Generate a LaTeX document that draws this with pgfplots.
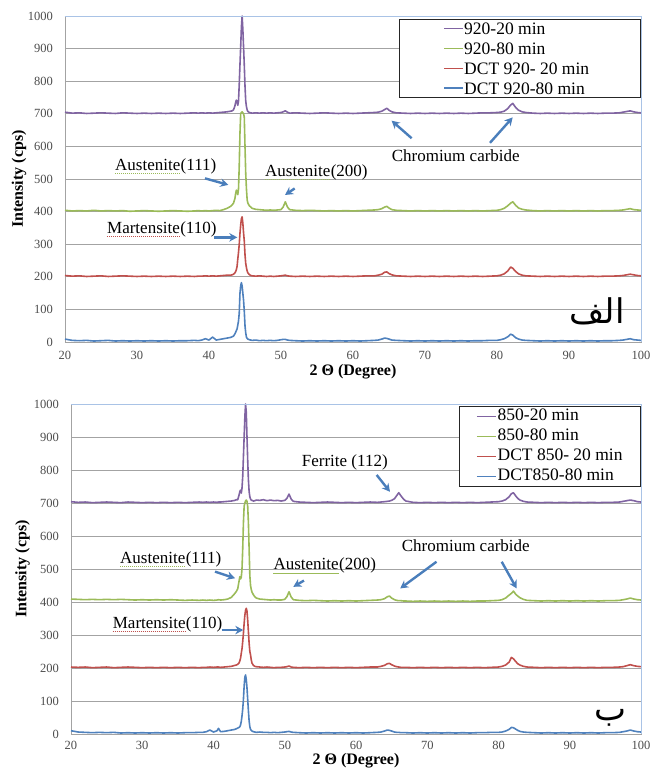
\documentclass[border=0pt]{standalone}
\usepackage{fontspec}
\setmainfont{Liberation Serif}
\newfontfamily\arabicfont[Script=Arabic]{DejaVu Sans}
\TeXXeTstate=1
\usepackage{pgfplots}
\usepackage{pgfplotstable}
\pgfplotsset{compat=1.18}
\usetikzlibrary{arrows.meta}

\definecolor{cP}{HTML}{8064A2}
\definecolor{cG}{HTML}{9BBB59}
\definecolor{cR}{HTML}{C0504D}
\definecolor{cB}{HTML}{4F81BD}
\definecolor{arr}{HTML}{4A7EBB}
\definecolor{gridc}{HTML}{A3A3A3}
\definecolor{framec}{HTML}{A9C3E6}

% x  920-20  920-80  DCT920-20  DCT920-80
\pgfplotstableread{
x p g r b
20 705 404 204 9
21 702 402 202 5
22 703 403 203 4
23 701 402 201 5
24 702 404 202 3
25 703 402 203 4
26 702 403 201 5
27 701 402 202 3
28 703 403 203 4
29 702 401 202 3
30 701 402 201 4
31 702 403 202 3
32 701 402 201 4
33 702 401 202 3
34 701 402 201 4
35 702 403 202 3
36 701 402 201 4
37 702 401 202 4
38 703 402 201 5
38.5 702 403 202 4
39 703 402 202 6
39.5 702 403 203 10
40 703 402 202 6
40.5 702 403 203 15
41 703 404 202 6
41.5 704 403 203 8
42 705 406 204 10
42.5 706 410 205 12
43.0 708 416 205 14
43.2 709 420 206 16
43.4 712 426 208 18
43.6 724 440 212 25
43.7 735 455 216 30
43.8 742 466 222 35
43.9 738 462 232 40
44.0 726 452 255 52
44.1 740 470 275 65
44.2 790 540 300 88
44.3 850 640 333 149
44.4 905 700 358 172
44.5 965 704 378 182
44.6 1000 706 384 172
44.7 960 703 365 150
44.8 905 700 335 128
44.9 850 690 310 95
45.0 785 600 268 50
45.1 740 518 241 28
45.2 722 470 228 15
45.3 712 436 218 11
45.4 707 426 212 9
45.6 704 418 207 7
45.8 703 414 204 6
46.0 702 410 203 5
46.5 703 407 202 6
47 702 406 203 4
47.5 703 405 202 5
48 702 404 201 4
48.5 703 405 202 5
49 702 404 201 4
49.5 703 405 202 5
50.0 704 406 203 7
50.3 706 414 204 8
50.6 709 430 205 8
50.9 705 414 203 6
51.2 702 406 202 5
52 703 404 201 4
53 702 403 202 3
54 701 404 201 4
55 702 403 202 3
56 703 402 201 4
57 702 403 202 3
58 701 402 201 4
59 702 403 202 3
60 701 402 201 4
61 702 403 202 3
62 703 404 203 4
63 704 405 203 5
63.5 705 406 205 6
64.0 708 409 208 9
64.4 713 414 214 12
64.7 717 416 215 11
65.0 711 411 210 9
65.4 706 406 206 6
66 703 404 203 5
67 702 403 202 4
68 701 402 201 3
69 702 403 202 4
70 701 402 201 3
71 702 403 202 4
72 701 402 201 3
73 702 403 202 4
74 701 402 201 3
75 702 403 202 4
76 701 402 201 3
77 702 403 202 4
78 703 402 201 4
79 703 403 202 5
80 704 404 203 5
80.5 705 406 205 7
81 708 410 209 10
81.5 716 418 218 16
81.9 727 426 230 24
82.2 732 430 226 21
82.6 719 419 216 13
83 711 411 209 9
83.5 706 407 205 6
84 704 405 203 5
85 702 403 202 4
86 701 402 201 3
87 702 403 202 4
88 701 402 201 3
89 702 403 202 4
90 701 402 201 3
91 702 403 202 4
92 701 402 201 3
93 702 403 202 4
94 701 402 201 3
95 702 403 202 4
96 702 403 202 4
97 703 404 203 5
97.5 705 405 204 6
98.0 707 407 206 8
98.5 709 409 208 10
99.0 706 406 206 7
99.5 704 405 204 6
100 703 404 203 5
}\topdata

% x  850-20  850-80  DCT850-20  DCT850-80
\pgfplotstableread{
x p g r b
20 704 409 203 10
21 702 408 202 6
22 703 407 203 5
23 701 408 201 4
24 702 407 202 5
25 703 408 203 4
26 702 407 201 5
27 701 408 202 3
28 703 407 203 4
29 702 406 202 3
30 701 407 201 4
31 702 406 202 3
32 701 407 201 4
33 702 406 202 3
34 701 407 201 4
35 702 406 202 3
36 701 405 201 4
37 702 406 202 4
38 703 405 201 5
38.5 702 406 202 5
39 703 405 202 7
39.5 702 406 203 12
40 703 405 202 6
40.5 702 406 203 10
40.7 703 407 203 17
41 703 406 202 7
41.5 704 407 203 8
42 705 409 204 10
42.5 706 414 205 12
43.0 708 426 208 14
43.2 710 432 209 16
43.4 710 440 211 18
43.6 725 465 216 20
43.7 735 477 222 22
43.8 739 470 230 28
43.9 730 475 245 38
44.0 745 500 258 55
44.1 780 560 280 75
44.2 840 640 305 105
44.3 900 690 335 145
44.4 960 700 360 172
44.5 1000 706 375 179
44.6 975 709 381 165
44.7 900 705 372 140
44.8 830 690 345 105
44.9 770 640 310 70
45.0 735 560 275 40
45.1 719 480 250 22
45.2 712 450 240 14
45.3 709 438 225 11
45.4 708 430 215 9
45.6 706 422 208 7
45.8 707 416 205 6
46.0 709 412 204 5
46.5 708 409 203 6
47 710 408 202 5
47.5 707 407 203 5
48 709 406 202 4
48.5 707 407 201 5
49 708 406 202 4
49.5 706 406 202 5
50.0 708 408 203 6
50.3 714 416 204 7
50.6 727 431 206 8
50.9 712 415 203 6
51.2 705 407 202 5
52 703 405 201 4
53 702 404 202 3
54 701 405 201 4
55 702 404 202 3
56 703 403 201 4
57 702 404 202 3
58 701 403 201 4
59 702 404 202 3
60 701 403 201 4
61 702 404 202 3
62 703 405 203 4
63 702 406 203 5
63.5 703 407 205 6
64.0 704 410 208 9
64.4 705 416 213 12
64.7 706 418 214 11
65.0 708 412 210 9
65.4 713 407 206 6
65.7 722 405 204 5
66.0 731 404 203 5
66.3 722 404 202 4
66.7 711 403 202 4
67 706 403 202 4
68 702 402 201 3
69 701 403 202 4
70 702 402 201 3
71 701 403 202 4
72 702 402 201 3
73 701 403 202 4
74 702 402 201 3
75 701 403 202 4
76 702 402 201 3
77 701 403 202 4
78 702 403 201 4
79 703 404 202 5
80 704 405 203 5
80.5 706 407 205 6
81 710 412 209 9
81.5 719 421 218 14
81.8 728 426 232 20
82.1 731 433 228 19
82.4 722 424 220 15
82.7 714 418 213 11
83 709 413 209 8
83.5 705 408 205 6
84 703 405 203 5
85 702 404 202 4
86 701 403 201 3
87 702 404 202 4
88 701 403 201 3
89 702 404 202 4
90 701 403 201 3
91 702 404 202 4
92 701 403 201 3
93 702 404 202 4
94 701 403 201 3
95 702 404 202 4
96 702 404 202 4
97 703 405 203 5
97.5 705 407 204 7
98.0 707 409 207 9
98.5 709 412 210 12
99.0 707 409 207 9
99.5 704 407 205 7
100 703 406 204 6
}\botdata

\pgfplotsset{xrd/.style={
  scale only axis, clip=false,
  xmin=20, xmax=100, ymin=0, ymax=1000,
  xtick={20,30,...,100}, ytick={0,100,...,1000},
  ymajorgrids, grid style={gridc, line width=0.9pt},
  major tick length=0pt,
  axis line style={gridc, line width=0.9pt},
  /pgf/number format/assume math mode=true,
  /pgf/number format/1000 sep={},
  tick label style={font=\fontsize{12.5}{12.5}\selectfont, text=black!70},
  yticklabel style={inner xsep=0pt, xshift=-12pt},
  label style={font=\fontsize{16}{16}\selectfont\bfseries},
  xlabel={2 Θ (Degree)}, ylabel={Intensity (cps)},
  legend cell align=left,
  legend image code/.code={\draw[##1, line width=1.5pt] (0pt,0pt) -- (19pt,0pt);},
  legend style={draw=black!85, line width=0.8pt, fill=white, inner ysep=0pt, row sep=0pt,
    font=\fontsize{17.5}{20}\selectfont,
    nodes={inner xsep=1pt, inner ysep=1pt, text height=13pt, text depth=5pt}},
  every axis plot/.append style={line width=1.6pt, no marks, line join=round},
}}
\tikzset{
  ann/.style={font=\fontsize{17}{17}\selectfont, inner sep=0pt, anchor=base west},
  arw/.style={arr, line width=2.4pt, -{Stealth[length=8pt, width=8.5pt]}},
  edge/.style={framec, line width=0.9pt},
  sq/.style={#1, line width=0.8pt, dash pattern=on 1.2pt off 0.8pt},
}
% word with a spell-check underline, then the rest of the label
\newcommand\annsq[4]{%
  \node[ann] (tmpw) at (#1) {#3};
  \node[ann] at (tmpw.base east) {#4};
  \draw[sq=#2] ([yshift=-3pt]tmpw.base west) -- ([yshift=-3pt]tmpw.base east);}

\begin{document}
\begin{tikzpicture}
\path[use as bounding box] (0pt,0pt) rectangle (649pt,-774pt);

\begin{axis}[xrd, at={(65pt,-342pt)}, anchor=south west, width=576pt, height=326pt,
  xticklabel style={inner ysep=0pt, yshift=-9pt},
  xlabel style={at={(axis description cs:0.5,-0.09)}, anchor=center},
  ylabel style={at={(axis description cs:-0.0799,0.5)}, anchor=center}]
\addplot[draw=cP] table[x=x, y=p] {\topdata};
\addplot[draw=cG] table[x=x, y=g] {\topdata};
\addplot[draw=cR] table[x=x, y=r] {\topdata};
\addplot[draw=cB] table[x=x, y=b] {\topdata};
\draw[edge] (rel axis cs:0,1) -- (rel axis cs:1,1) -- (rel axis cs:1,0);
\annsq{axis cs:26.94,525}{cG}{Austenite}{(111)}
\draw[arw] (axis cs:39.44,502) -- (axis cs:42.68,482);
\annsq{axis cs:47.78,509}{cG}{Austenite}{(200)}
\draw[arw] (axis cs:51.9,471) -- (axis cs:50.56,451);
\annsq{axis cs:25.83,333}{cR}{Martensite}{(110)}
\draw[arw] (axis cs:40.69,321) -- (axis cs:43.93,321);
\node[ann] at (axis cs:65.36,555) {Chromium carbide};
\draw[arw] (axis cs:68.15,625) -- (axis cs:65.36,679);
\draw[arw] (axis cs:79.03,611) -- (axis cs:82.18,689);
\end{axis}

\begin{axis}[xrd, at={(71pt,-734pt)}, anchor=south west, width=570pt, height=330pt,
  xticklabel style={inner ysep=0pt, yshift=-7pt},
  xlabel style={at={(axis description cs:0.5,-0.082)}, anchor=center},
  ylabel style={at={(axis description cs:-0.0851,0.5)}, anchor=center},
  legend style={at={(axis cs:100,994)}, anchor=north east, inner xsep=17pt}]
\addplot[draw=cP] table[x=x, y=p] {\botdata};
\addlegendentry{850-20 min}
\addplot[draw=cG] table[x=x, y=g] {\botdata};
\addlegendentry{850-80 min}
\addplot[draw=cR] table[x=x, y=r] {\botdata};
\addlegendentry{DCT 850- 20 min}
\addplot[draw=cB] table[x=x, y=b] {\botdata};
\addlegendentry{DCT850-80 min}
\draw[edge] (rel axis cs:0,1) -- (rel axis cs:1,1) -- (rel axis cs:1,0);
\node[ann] at (axis cs:52.38,810) {Ferrite (112)};
\draw[arw] (axis cs:62.9,785) -- (axis cs:64.77,734);
\annsq{axis cs:26.88,517}{cG}{Austenite}{(111)}
\draw[arw] (axis cs:40.21,492) -- (axis cs:43.02,472);
\annsq{axis cs:48.4,497}{cG}{Austenite}{(200)}
\draw[arw] (axis cs:52.7,465) -- (axis cs:51.2,446);
\annsq{axis cs:25.85,320}{cR}{Martensite}{(110)}
\draw[arw] (axis cs:41.15,315) -- (axis cs:44.18,315);
\node[ann] at (axis cs:66.4,552) {Chromium carbide};
\draw[arw] (axis cs:71.3,522) -- (axis cs:66.2,441);
\draw[arw] (axis cs:80.45,522) -- (axis cs:82.55,441);
\end{axis}

% legend of the upper panel
\draw[black!85, line width=0.8pt, fill=white] (399pt,-19pt) rectangle (640pt,-97pt);
\foreach \c/\t/\y in {cP/920-20 min/28.3pt, cG/920-80 min/48.3pt, cR/DCT 920- 20 min/68.3pt, cB/DCT 920-80 min/88pt} {
  \draw[\c, line width=1.5pt] (444pt,-\y) -- (463pt,-\y);
  \node[anchor=west, inner sep=0pt, text height=12pt, text depth=0pt, font=\fontsize{17.5}{20}\selectfont] at (464pt,-\y) {\t};
}

% panel letters
\node[anchor=base east, inner sep=0pt] at (625pt,-323pt) {\arabicfont\fontsize{34}{34}\selectfont\beginR الف\endR};
\node[anchor=base east, inner sep=0pt] at (627pt,-720pt) {\arabicfont\fontsize{34}{34}\selectfont\beginR ب\endR};
\end{tikzpicture}
\end{document}
